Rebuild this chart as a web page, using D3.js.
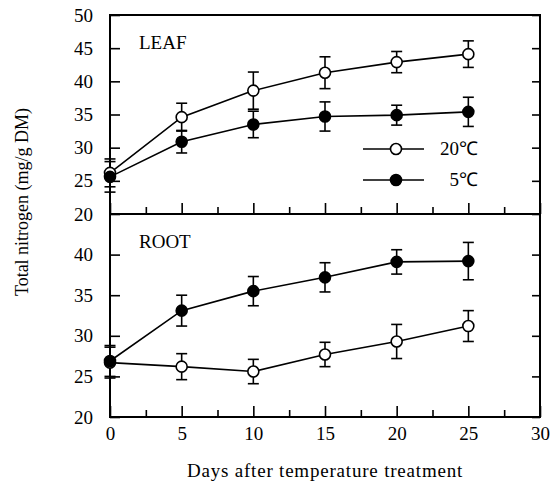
<!DOCTYPE html>
<html>
<head>
<meta charset="utf-8">
<script src="https://cdn.jsdelivr.net/npm/d3@7"></script>
<style>
  body { margin: 0; background: #fff; }
  svg { display: block; }
  text { font-family: "Liberation Serif", "Times New Roman", serif; fill: #000; }
  .axis text { font-size: 19px; }
  .axis line { stroke: #000; stroke-width: 1.6px; }
  .axis path { display: none; }
</style>
</head>
<body>
<div id="chart"></div>
<script>
// days after treatment
const days = [0, 5, 10, 15, 20, 25];

// LEAF, total N (mg/g DM)
const leaf20 = [26.2, 34.6, 38.6, 41.3, 42.9, 44.1];
const leaf20Err = [2.1, 2.1, 2.8, 2.4, 1.6, 2.0];
const leaf5 = [25.6, 30.9, 33.5, 34.7, 34.9, 35.4];
const leaf5Err = [2.3, 1.7, 2.0, 2.2, 1.5, 2.2];

// ROOT, total N (mg/g DM)
const root20 = [26.7, 26.2, 25.6, 27.7, 29.3, 31.2];
const root20Err = [1.9, 1.6, 1.5, 1.5, 2.1, 1.9];
const root5 = [26.9, 33.1, 35.5, 37.2, 39.1, 39.2];
const root5Err = [1.9, 1.9, 1.8, 1.8, 1.5, 2.3];

const xTicks = [0, 5, 10, 15, 20, 25, 30];
const xMinor = [2.5, 7.5, 12.5, 17.5, 22.5, 27.5];
const leafTicks = [20, 25, 30, 35, 40, 45, 50];
const rootTicks = [20, 25, 30, 35, 40];

const width = 557, height = 483;
const svg = d3.select("#chart").append("svg")
    .attr("width", width)
    .attr("height", height);

const xScale = d3.scaleLinear().domain([0, 30]).range([110, 540]);
const yLeaf = d3.scaleLinear().domain([20, 50]).range([214, 15]);
const yRoot = d3.scaleLinear().domain([20, 45]).range([417, 214]);

function rows(vals, errs) {
    return days.map(function (d, i) {
        return { day: d, v: vals[i], e: errs[i] };
    });
}

function drawPanel(y, ticks, series, name) {
    const g = svg.append("g");
    const top = y.range()[1], bottom = y.range()[0];

    // left ticks + labels
    g.append("g").attr("class", "axis")
        .attr("transform", `translate(${xScale(0)},0)`)
        .call(d3.axisLeft(y).tickValues(ticks).tickSize(-10).tickPadding(17));
    // right ticks
    g.append("g").attr("class", "axis")
        .attr("transform", `translate(${xScale(30)},0)`)
        .call(d3.axisRight(y).tickValues(ticks).tickSize(-8).tickFormat(""));
    // bottom ticks
    const bx = g.append("g").attr("class", "axis")
        .attr("transform", `translate(0,${bottom})`)
        .call(d3.axisBottom(xScale).tickValues(xTicks).tickSize(-11).tickPadding(10));
    if (name === "LEAF") bx.selectAll("text").remove();
    g.append("g").attr("class", "axis")
        .attr("transform", `translate(0,${bottom})`)
        .call(d3.axisBottom(xScale).tickValues(xMinor).tickSize(-7).tickFormat(""));

    g.append("rect")
        .attr("x", xScale(0)).attr("y", top)
        .attr("width", xScale(30) - xScale(0))
        .attr("height", bottom - top)
        .attr("fill", "none").attr("stroke", "#000").attr("stroke-width", 2);

    g.append("text")
        .attr("x", xScale(0) + 29)
        .attr("y", top + 34)
        .style("font-size", "19px")
        .text(name);

    const line = d3.line().x(function (d) { return xScale(d.day); }).y(function (d) { return y(d.v); });

    series.forEach(function (s) {
        const data = rows(s.vals, s.errs);
        g.append("path").datum(data)
            .attr("d", line)
            .attr("fill", "none").attr("stroke", "#000").attr("stroke-width", 1.6);

        const eb = g.append("g").selectAll("g").data(data).join("g");
        eb.append("line")
            .attr("x1", function (d) { return xScale(d.day); })
            .attr("x2", function (d) { return xScale(d.day); })
            .attr("y1", function (d) { return y(d.v - d.e); })
            .attr("y2", function (d) { return y(d.v + d.e); })
            .attr("stroke", "#000").attr("stroke-width", 1.6);
        [-1, 1].forEach(function (sg) {
            eb.append("line")
                .attr("x1", function (d) { return xScale(d.day) - 5.5; })
                .attr("x2", function (d) { return xScale(d.day) + 5.5; })
                .attr("y1", function (d) { return y(d.v + sg * d.e); })
                .attr("y2", function (d) { return y(d.v + sg * d.e); })
                .attr("stroke", "#000").attr("stroke-width", 1.6);
        });
    });

    series.forEach(function (s) {
        g.append("g").selectAll("circle")
            .data(rows(s.vals, s.errs))
            .join("circle")
            .attr("cx", function (d) { return xScale(d.day); })
            .attr("cy", function (d) { return y(d.v); })
            .attr("r", 5.5)
            .attr("fill", s.filled ? "#000" : "#fff")
            .attr("stroke", "#000").attr("stroke-width", 1.6);
    });
}

drawPanel(yLeaf, leafTicks, [
    { vals: leaf20, errs: leaf20Err, filled: false },
    { vals: leaf5, errs: leaf5Err, filled: true }
], "LEAF");

drawPanel(yRoot, rootTicks, [
    { vals: root20, errs: root20Err, filled: false },
    { vals: root5, errs: root5Err, filled: true }
], "ROOT");

// legend
const legend = [
    { label: "20\u2103", filled: false, y: 149 },
    { label: "5\u2103", filled: true, y: 180 }
];
const lg = svg.append("g").selectAll("g").data(legend).join("g");
lg.append("line")
    .attr("x1", 363).attr("x2", 424)
    .attr("y1", function (d) { return d.y; })
    .attr("y2", function (d) { return d.y; })
    .attr("stroke", "#000").attr("stroke-width", 1.6);
lg.append("circle")
    .attr("cx", 396).attr("cy", function (d) { return d.y; })
    .attr("r", 5.5)
    .attr("fill", function (d) { return d.filled ? "#000" : "#fff"; })
    .attr("stroke", "#000").attr("stroke-width", 1.6);
lg.append("text")
    .attr("x", 478)
    .attr("y", function (d) { return d.y + 6; })
    .attr("text-anchor", "end")
    .style("font-size", "19px")
    .text(function (d) { return d.label; });

// axis titles
svg.append("text")
    .attr("x", 325).attr("y", 477)
    .attr("text-anchor", "middle")
    .style("font-size", "19px")
    .style("letter-spacing", "0.8px")
    .text("Days after temperature treatment");

svg.append("text")
    .attr("transform", "translate(28,202) rotate(-90)")
    .attr("text-anchor", "middle")
    .style("font-size", "18px")
    .text("Total nitrogen (mg/g DM)");
</script>
</body>
</html>
